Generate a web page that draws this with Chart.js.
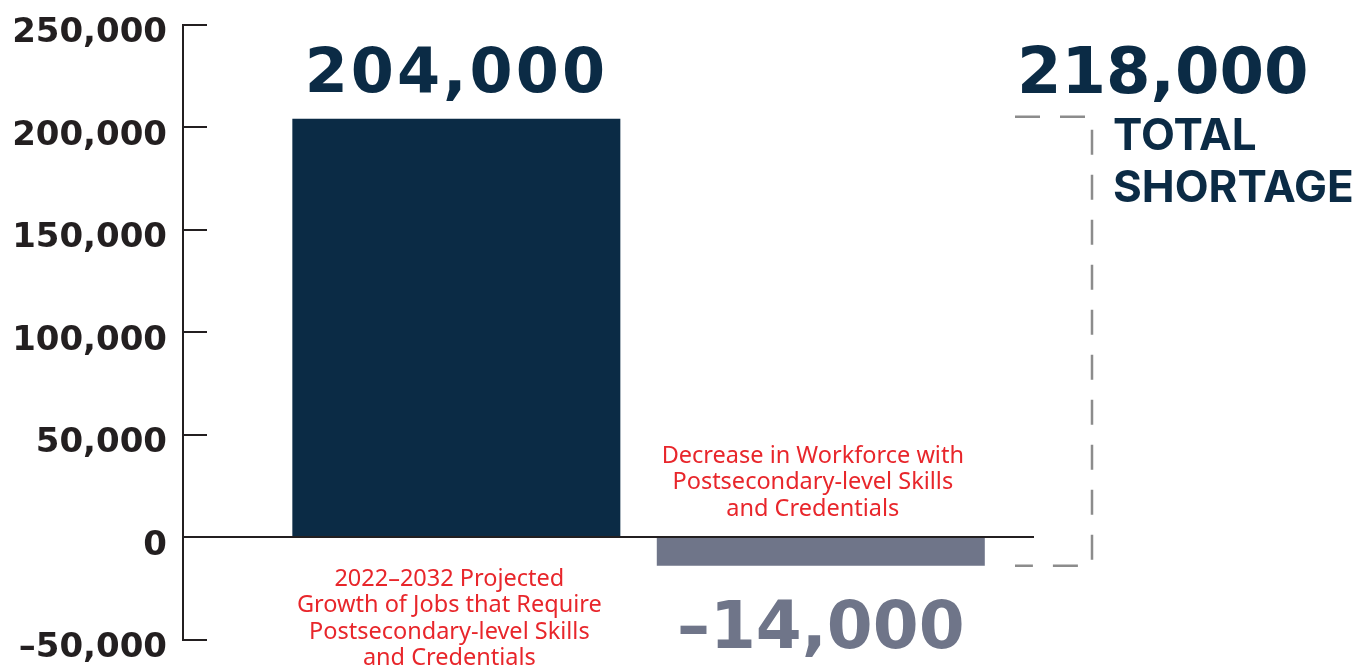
<!DOCTYPE html>
<html>
<head>
<meta charset="utf-8">
<title>Postsecondary skills shortage</title>
<script src="https://cdn.jsdelivr.net/npm/chart.js@4.4.1/dist/chart.umd.min.js"></script>
<style>
  html, body { margin: 0; padding: 0; background: #ffffff; }
  #wrap { width: 1361px; height: 669px; position: relative; }
</style>
</head>
<body>
<div id="wrap"><canvas id="chart"></canvas></div>
<script>
// Данные графика
const categories = [
    ['2022\u20132032 Projected', 'Growth of Jobs that Require', 'Postsecondary-level Skills', 'and Credentials'],
    ['Decrease in Workforce with', 'Postsecondary-level Skills', 'and Credentials']
];
const values = [204000, -14000];
const yMin = -50000;
const yMax = 250000;
const yStep = 50000;
const totalLabel = ['TOTAL', 'SHORTAGE'];

// Цвета
const barColors = ['#0b2b45', '#6f7589'];
const labelRed = '#e8262b';
const axisColor = '#231f20';
const bracketColor = '#8c8c8c';

function fmt(v) {
    return v.toLocaleString('en-US').replace('-', '\u2013');
}

// Метки делений справа от оси, подписи категорий, значения и скобка итога
const annotations = {
    id: 'annotations',
    afterDatasetsDraw(chart) {
        const ctx = chart.ctx;
        const xs = chart.scales.x;
        const ys = chart.scales.y;
        const area = chart.chartArea;
        const zeroY = ys.getPixelForValue(0);

        ctx.save();

        // короткие засечки
        ctx.strokeStyle = axisColor;
        ctx.lineWidth = 2;
        ys.ticks.forEach(t => {
            const y = Math.round(ys.getPixelForValue(t.value));
            ctx.beginPath();
            ctx.moveTo(area.left, y);
            ctx.lineTo(area.left + 24, y);
            ctx.stroke();
        });

        // подписи категорий и значения
        values.forEach((v, i) => {
            const cx = xs.getPixelForValue(i + 1);
            const lines = categories[i];
            ctx.font = '23.5px "Noto Sans"';
            ctx.fillStyle = labelRed;
            ctx.textAlign = 'center';
            ctx.textBaseline = 'middle';
            const lh = 26.5;
            if (v >= 0) {
                lines.forEach((s, k) => ctx.fillText(s, cx - 7, zeroY + 42 + k * lh));
            } else {
                const n = lines.length;
                lines.forEach((s, k) => ctx.fillText(s, cx - 8, zeroY - 28 - (n - 1 - k) * lh));
            }

            const edge = ys.getPixelForValue(v);
            ctx.fillStyle = barColors[i];
            ctx.textBaseline = 'alphabetic';
            if (v >= 0) {
                ctx.letterSpacing = '3px';
                ctx.font = 'bold 62px "DejaVu Sans"';
                ctx.fillText(fmt(v), cx, edge - 27);
                ctx.letterSpacing = '0px';
            } else {
                ctx.font = 'bold 66px "DejaVu Sans"';
                ctx.fillText(fmt(v), cx, edge + 82);
            }
        });

        // скобка итога
        const topY = ys.getPixelForValue(Math.max(...values)) - 2;
        const botY = ys.getPixelForValue(Math.min(...values));
        const x0 = area.right - 19;
        const x1 = area.right + 58;
        ctx.strokeStyle = bracketColor;
        ctx.lineWidth = 2.5;
        ctx.setLineDash([25, 20]);
        ctx.beginPath();
        ctx.moveTo(x0, topY);
        ctx.lineTo(x1, topY);
        ctx.lineTo(x1, botY);
        ctx.lineTo(x0, botY);
        ctx.stroke();
        ctx.setLineDash([]);

        const total = Math.max(...values) - Math.min(...values);
        ctx.fillStyle = barColors[0];
        ctx.textAlign = 'left';
        ctx.textBaseline = 'alphabetic';
        ctx.font = 'bold 64px "DejaVu Sans"';
        ctx.fillText(fmt(total), x0 + 2, topY - 24);
        ctx.font = 'bold 44px "Inter"';
        ctx.fillText(totalLabel[0], x1 + 21, topY + 33);
        ctx.fillText(totalLabel[1], x1 + 21, topY + 85);

        ctx.restore();
    }
};

const ctx = document.getElementById('chart').getContext('2d');
new Chart(ctx, {
    type: 'bar',
    data: {
        datasets: [{
            data: values.map((v, i) => ({ x: i + 1, y: v })),
            backgroundColor: barColors,
            borderWidth: 0,
            categoryPercentage: 1,
            barPercentage: 0.9
        }]
    },
    options: {
        responsive: true,
        maintainAspectRatio: false,
        animation: false,
        layout: { padding: { top: 24.5, bottom: 29.5, left: 0, right: 327 } },
        plugins: {
            legend: { display: false },
            tooltip: { enabled: false }
        },
        scales: {
            x: {
                type: 'linear',
                min: 0.25,
                max: 2.585,
                offset: false,
                display: false,
                // только позиции столбцов, чтобы ширина считалась по ним
                afterBuildTicks(scale) {
                    scale.ticks = values.map((v, i) => ({ value: i + 1 }));
                }
            },
            y: {
                min: yMin,
                max: yMax,
                afterFit(scale) {
                    scale.width = 183;
                    scale.paddingTop = 0;
                    scale.paddingBottom = 0;
                },
                ticks: {
                    stepSize: yStep,
                    padding: 16,
                    labelOffset: 9,
                    color: axisColor,
                    font: { family: '"DejaVu Sans"', size: 34, weight: 'bold' },
                    callback: v => fmt(v)
                },
                grid: {
                    drawTicks: false,
                    lineWidth: 2,
                    color: c => (c.tick && c.tick.value === 0) ? axisColor : 'rgba(0,0,0,0)'
                },
                border: { display: true, color: axisColor, width: 2 }
            }
        }
    },
    plugins: [annotations]
});
</script>
</body>
</html>
